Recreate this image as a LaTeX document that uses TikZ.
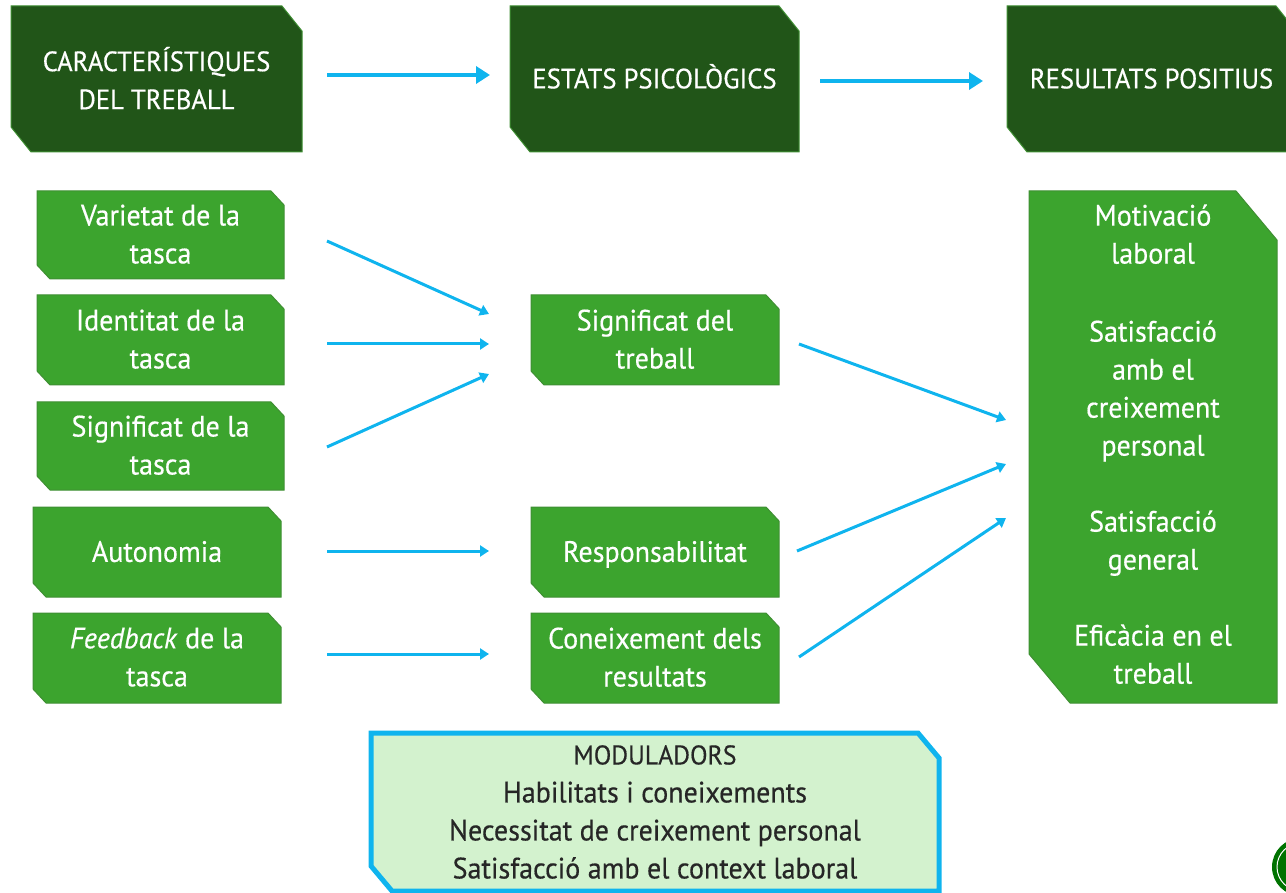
\documentclass[tikz,border=0pt]{standalone}
\usepackage{fontspec}
\setmainfont[FakeStretch=0.95,FakeBold=0.45]{PT Sans}
\usetikzlibrary{arrows.meta,calc}
\definecolor{darkg}{HTML}{215518}
\definecolor{lightg}{HTML}{3CA42E}
\definecolor{edgeg}{HTML}{3F8F33}
\definecolor{skyb}{HTML}{0FB4EE}
\definecolor{palegreen}{HTML}{D3F2CE}
\tikzset{
  x=1pt,y=-1pt,
  every node/.style={inner sep=0pt,outer sep=0pt},
  lab/.style={align=center,font=\fontsize{29.5}{38}\selectfont},
  headshape/.style={fill=darkg,draw=edgeg,line width=1pt},
  itemshape/.style={fill=lightg,draw=edgeg,line width=1pt},
  modshape/.style={fill=palegreen,draw=skyb,line width=5pt,line join=miter},
  headlab/.style={lab,text=white,font=\fontsize{28}{38}\selectfont},
  itemlab/.style={lab,text=white},
  modlab/.style={lab,text=black!85},
  bigarrow/.style={draw=skyb,line width=4pt,-{Triangle[length=14pt,width=17pt]}},
  thinarrow/.style={draw=skyb,line width=3pt,-{Triangle[length=9pt,width=11pt]}},
}
% #1 shape style, #2 label style, #3 name, #4-#7 x1 y1 x2 y2, #8 #9 chamfer, then text
\newcommand{\snipbox}[9]{%
  \path[#1] (#4,#5) -- ({#6-#8},#5) -- (#6,{#5+#9}) -- (#6,#7) -- ({#4+#8},#7) -- (#4,{#7-#9}) -- cycle;
  \node[#2,minimum width={(#6-#4)*1pt},minimum height={(#7-#5)*1pt}] (#3) at ({(#4+#6)/2},{(#5+#7)/2})}
\newcommand{\ph}{\vphantom{Áp}}
\newcommand{\nudge}{\rule[-2pt]{0pt}{2pt}}
\begin{document}
\begin{tikzpicture}
\useasboundingbox (0,0) rectangle (1286,893);
\clip (0,0) rectangle (1286,893);
% seal
\fill[green!45!black] (1301,867) circle (29);
\draw[white,line width=1pt] (1301,867) circle (24);
% header boxes
\snipbox{headshape}{headlab}{h1}{11}{6}{302}{152}{20}{25} {CARACTERÍSTIQUES\\DEL TREBALL\nudge};
\snipbox{headshape}{headlab}{h2}{510}{6}{799}{152}{20}{25} {\ph ESTATS PSICOLÒGICS};
\snipbox{headshape}{headlab}{h3}{1007}{6}{1296}{152}{20}{25} {\ph RESULTATS POSITIUS};
% left items
\snipbox{itemshape}{itemlab}{v}{37}{191}{284}{279}{13}{14} {Varietat de la\\tasca\nudge};
\snipbox{itemshape}{itemlab}{i}{37}{295}{284}{385}{13}{14} {Identitat de la\\tasca\nudge};
\snipbox{itemshape}{itemlab}{s}{37}{402}{284}{490}{13}{14} {Significat de la\\tasca\nudge};
\snipbox{itemshape}{itemlab}{a}{33}{507}{281}{597}{13}{14} {\ph Autonomia};
\snipbox{itemshape}{itemlab}{f}{33}{613}{281}{703}{13}{14} {\textit{Feedback} de la\\tasca\nudge};
% middle items
\snipbox{itemshape}{itemlab}{sig}{531}{295}{779}{385}{13}{14} {Significat del\\treball\nudge};
\snipbox{itemshape}{itemlab}{r}{531}{507}{779}{597}{13}{14} {\ph Responsabilitat};
\snipbox{itemshape}{itemlab}{c}{531}{613}{779}{703}{13}{14} {Coneixement dels\\resultats\nudge};
% results
\snipbox{itemshape}{itemlab}{res}{1029}{191}{1277}{703}{41}{49}
 {Motivació\\laboral\\[40pt]Satisfacció\\amb el\\creixement\\personal\\[38pt]Satisfacció\\general\\[38pt]Eficàcia en el\\treball\rule[-6pt]{0pt}{6pt}};
% moderators
\snipbox{modshape}{modlab}{m}{371}{733}{939}{891}{21}{25}
 {{\fontsize{27}{38}\selectfont MODULADORS}\\Habilitats i coneixements\\Necessitat de creixement personal\\Satisfacció amb el context laboral};
% connectors
\draw[bigarrow] ($(h1.east)+(25,-4)$) -- ($(h2.west)+(-20,-4)$);
\draw[bigarrow] ($(h2.east)+(21,2)$) -- ($(h3.west)+(-24,2)$);
\draw[thinarrow] ($(v.east)+(43,6)$) -- ($(sig.west)+(-42,-26)$);
\draw[thinarrow] ($(i.east)+(43,4)$) -- ($(sig.west)+(-42,4)$);
\draw[thinarrow] ($(s.east)+(43,1)$) -- ($(sig.west)+(-42,34)$);
\draw[thinarrow] ($(a.east)+(46,-1)$) -- ($(r.west)+(-42,-1)$);
\draw[thinarrow] ($(f.east)+(46,-4)$) -- ($(c.west)+(-42,-4)$);
\draw[thinarrow] ($(sig.east)+(20,4)$) -- ($(res.west)+(-23,-27)$);
\draw[thinarrow] ($(r.east)+(18,-1)$) -- ($(res.west)+(-23,17)$);
\draw[thinarrow] ($(c.east)+(20,-1)$) -- ($(res.west)+(-23,71)$);
\end{tikzpicture}
\end{document}
